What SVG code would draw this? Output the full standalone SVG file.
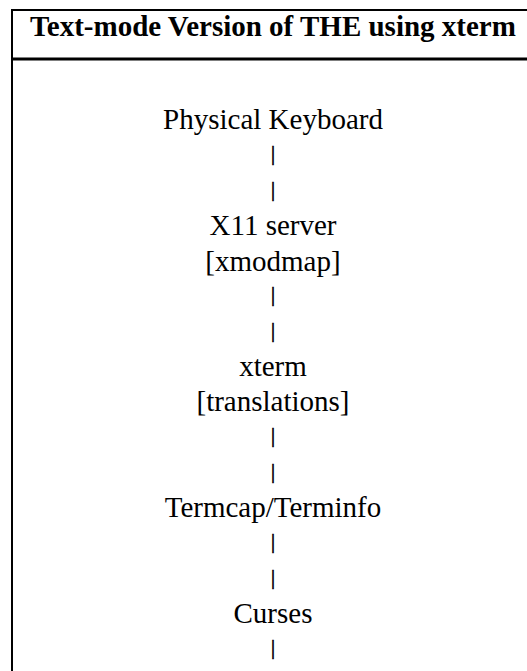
<svg xmlns="http://www.w3.org/2000/svg" width="527" height="671" viewBox="0 0 527 671">
<style>
.t{font-family:"Liberation Serif","Times New Roman",serif;font-size:29px;fill:#000;text-anchor:middle}
.h{font-weight:bold}
.b{font-family:"Liberation Serif","Times New Roman",serif;font-size:20px;fill:#000;stroke:#000;stroke-width:0.6;text-anchor:middle}
.frame{fill:none;stroke:#000}
</style>
<rect width="527" height="671" fill="#fff"/>
<g id="table">
<line class="frame" x1="12" y1="10" x2="540" y2="10" stroke-width="2"/>
<line class="frame" x1="12" y1="9" x2="12" y2="680" stroke-width="2"/>
<line class="frame" x1="11" y1="59" x2="540" y2="59" stroke-width="3"/>
</g>
<g id="header"><text class="t h" x="273" y="36">Text-mode Version of THE using xterm</text></g>
<g id="keyboard"><text class="t" x="273" y="129">Physical Keyboard</text></g>
<g id="x11"><text class="t" x="273" y="235">X11 server</text><text class="t" x="273" y="270.5">[xmodmap]</text></g>
<g id="xterm"><text class="t" x="273" y="376">xterm</text><text class="t" x="273" y="411">[translations]</text></g>
<g id="termcap"><text class="t" x="273" y="517">Termcap/Terminfo</text></g>
<g id="curses"><text class="t" x="273" y="623">Curses</text></g>
<g id="connectors">
<text class="b" x="273" y="160">|</text>
<text class="b" x="273" y="195.5">|</text>
<text class="b" x="273" y="301">|</text>
<text class="b" x="273" y="336.5">|</text>
<text class="b" x="273" y="442">|</text>
<text class="b" x="273" y="477.5">|</text>
<text class="b" x="273" y="548">|</text>
<text class="b" x="273" y="583.5">|</text>
<text class="b" x="273" y="654">|</text>
</g>
</svg>
